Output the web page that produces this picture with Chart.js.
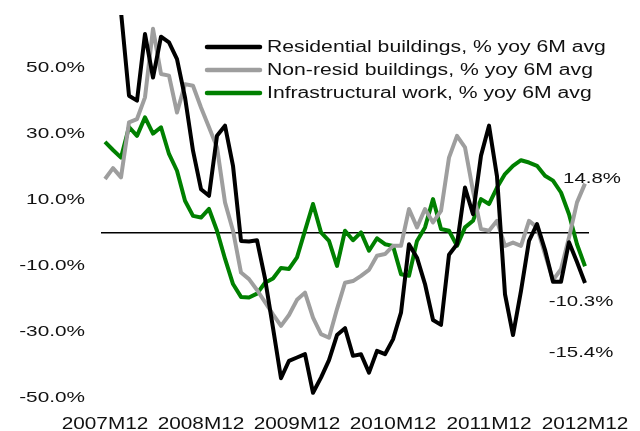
<!DOCTYPE html>
<html>
<head>
<meta charset="utf-8">
<script src="https://cdn.jsdelivr.net/npm/chart.js@4"></script>
<style>
  body { margin: 0; background: #fff; }
  canvas { display: block; }
</style>
</head>
<body>
<canvas id="chart" width="640" height="431"></canvas>
<script>
// months 2007M12 .. 2012M12
var months = [];
for (var yr = 2007, mo = 12; months.length < 61; mo++) {
    if (mo > 12) { mo = 1; yr++; }
    months.push(yr + 'M' + (mo < 10 ? '0' + mo : mo));
}

var seriesNames = [
    'Residential buildings, % yoy 6M avg',
    'Non-resid buildings, % yoy 6M avg',
    'Infrastructural work, % yoy 6M avg'
];
var seriesColors = ['#000000', '#9e9e9e', '#008000'];

var residential = [85, 75, 67, 41.5, 40, 60.2, 47, 59.4, 57.7, 52.6,
    41, 24.8, 13.1, 11.1, 29.3, 32.4, 20.2, -2.6, -2.8, -2.4,
    -14, -29, -44.3, -39, -38, -37, -48.7, -44.1, -38.8, -31.2,
    -29.1, -37.5, -37, -42.6, -36, -37, -32.5, -24.4, -3.6, -7.7,
    -15.7, -26.6, -28.1, -6.8, -3.6, 13.6, 5.5, 23.3, 32.4, 17,
    -18.8, -31.2, -17.8, -2.6, 2.5, -5.3, -15, -15, -3, -9,
    -15.4];
var nonResid = [16.2, 19.5, 16.7, 33.4, 34.4, 41, 61.8, 48.1, 47.6, 36.4,
    45, 44.5, 37.9, 31.9, 25.8, 9.1, 0.5, -12.2, -14.2, -17.5,
    -21.2, -24.9, -28.4, -25.1, -20.5, -18.3, -25.9, -30.9, -32, -23.3,
    -15.3, -14.8, -13.2, -11.4, -7.1, -6.6, -4.1, -4.1, 7.1, 1.5,
    7.1, 3, 6.5, 22.7, 29.3, 25.8, 12.6, 1, 0.5, 3.5,
    -4.1, -3.1, -4.1, 3.5, 1.5, -6.6, -14.5, -11.2, -1.6, 9.1,
    14.8];
var infra = [27.5, 25, 22.7, 32, 29.3, 34.9, 30, 31.9, 23.8, 18.7,
    9.6, 5, 4.5, 7.1, 0.5, -8, -15.7, -19.6, -19.8, -18.6,
    -15.3, -14, -10.8, -11.1, -7.6, 0.5, 8.6, 0, -2.6, -10.2,
    0.5, -2.4, 0, -5.6, -1.8, -3.6, -4.1, -12.7, -13.2, -2.6,
    1.5, 10.1, 1, 0.5, -4.1, 1.5, 3.5, 10.1, 8.6, 13.6,
    17.7, 20.2, 21.9, 21.2, 20.2, 17.2, 15.7, 12.1, 5.5, -3.6,
    -10.3];

var yTicks = [-50, -30, -10, 0, 10, 30, 50];
var FONT = '"Liberation Sans", Arial, sans-serif';

// offsets of the end-value labels from the last point of each series
var endLabelOffsets = [[-4, 70], [7, -5], [-4, 36]];

// the original text is drawn horizontally stretched
function wideText(ctx, text, x, y, sx, align) {
    ctx.save();
    ctx.translate(x, y);
    ctx.scale(sx, 1);
    ctx.textAlign = align;
    ctx.fillText(text, 0, 0);
    ctx.restore();
}

var extras = {
    id: 'extras',
    afterDraw: function(chart) {
        var ctx = chart.ctx;
        var xs = chart.scales.x, ys = chart.scales.y;
        ctx.save();
        ctx.fillStyle = '#111';

        // axis labels
        ctx.textBaseline = 'middle';
        ctx.font = '15.4px ' + FONT;
        yTicks.forEach(function(v) {
            if (v === 0) return;
            wideText(ctx, v.toFixed(1) + '%', 85, ys.getPixelForValue(v) + 0.5, 1.35, 'right');
        });
        ctx.textBaseline = 'alphabetic';
        ctx.font = '16.5px ' + FONT;
        months.forEach(function(m, i) {
            if (i % 12 !== 0) return;
            wideText(ctx, m, xs.getPixelForValue(i), 429, 1.26, 'center');
        });

        // legend
        ctx.textBaseline = 'middle';
        ctx.font = '15.8px ' + FONT;
        ctx.lineCap = 'round';
        chart.data.datasets.forEach(function(ds, i) {
            var y = 47 + i * 23;
            ctx.strokeStyle = ds.borderColor;
            ctx.lineWidth = 4.5;
            ctx.beginPath();
            ctx.moveTo(207, y);
            ctx.lineTo(260, y);
            ctx.stroke();
            wideText(ctx, ds.label, 267, y + 1, 1.34, 'left');
        });

        // end values
        ctx.font = '15px ' + FONT;
        chart.data.datasets.forEach(function(ds, i) {
            var meta = chart.getDatasetMeta(i);
            var last = meta.data[meta.data.length - 1];
            var val = ds.data[ds.data.length - 1];
            wideText(ctx, val.toFixed(1) + '%', last.x + endLabelOffsets[i][0], last.y + endLabelOffsets[i][1], 1.36, 'center');
        });
        ctx.restore();
    }
};

var datasets = [residential, nonResid, infra].map(function(d, i) {
    return {
        label: seriesNames[i],
        data: d,
        borderColor: seriesColors[i],
        backgroundColor: seriesColors[i],
        borderWidth: 4,
        borderJoinStyle: 'round',
        pointRadius: 0,
        tension: 0,
        clip: 0
    };
});

new Chart(document.getElementById('chart'), {
    type: 'line',
    data: { labels: months, datasets: datasets },
    plugins: [extras],
    options: {
        responsive: false,
        animation: false,
        devicePixelRatio: 1,
        layout: { padding: { top: 15, right: 51, left: 0, bottom: 0 } },
        plugins: {
            legend: { display: false },
            tooltip: { enabled: false }
        },
        scales: {
            x: {
                offset: true,
                grid: { display: false, drawTicks: false },
                border: { display: false },
                afterFit: function(scale) { scale.height = 34; },
                ticks: { display: false, autoSkip: false, maxRotation: 0 }
            },
            y: {
                min: -50,
                max: 66,
                afterBuildTicks: function(scale) {
                    scale.ticks = yTicks.map(function(v) { return { value: v }; });
                },
                afterFit: function(scale) { scale.width = 101; },
                grid: {
                    drawTicks: false,
                    lineWidth: 1.5,
                    color: function(c) { return c.tick && c.tick.value === 0 ? '#000' : 'rgba(0,0,0,0)'; }
                },
                border: { display: false },
                ticks: { display: false }
            }
        }
    }
});
</script>
</body>
</html>
